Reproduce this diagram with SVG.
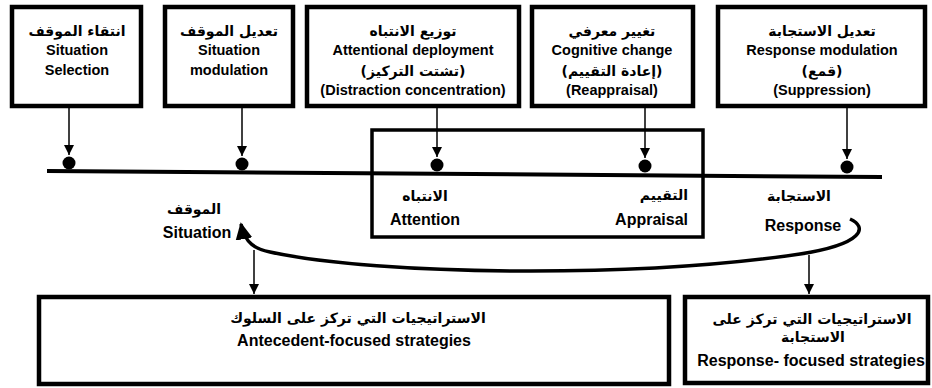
<svg xmlns="http://www.w3.org/2000/svg" width="932" height="388" viewBox="0 0 932 388">
<style>
.box{fill:#fff;stroke:#000;stroke-width:4.5}
.frame{fill:none;stroke:#000;stroke-width:3.5}
.en{font-family:"Liberation Sans",Arial,sans-serif;font-weight:bold;font-size:14.5px;fill:#000}
.lb{font-family:"Liberation Sans",Arial,sans-serif;font-weight:bold;font-size:16px;fill:#000}
.ar{font-family:"DejaVu Sans","Noto Sans",sans-serif;font-weight:bold;font-size:14px;fill:#000}
.thin{stroke:#000;stroke-width:1.5;fill:none}
.dot{fill:#000}
</style>
<defs>
<marker id="ah" markerUnits="userSpaceOnUse" markerWidth="10" markerHeight="10" viewBox="0 0 10 10" refX="10" refY="5" orient="auto">
<path d="M0,0 L10,5 L0,10 z" fill="#000"/>
</marker>
<marker id="big" markerUnits="userSpaceOnUse" markerWidth="17" markerHeight="17" viewBox="0 0 10 10" refX="9" refY="5" orient="auto">
<path d="M0,0 L10,5 L0,10 z" fill="#000"/>
</marker>
</defs>

<g id="box-situation-selection">
<rect class="box" x="12" y="7" width="129" height="99"/>
<text class="ar" x="77" y="36" text-anchor="middle">انتقاء الموقف</text>
<text class="en" x="77" y="55" text-anchor="middle">Situation</text>
<text class="en" x="77" y="75" text-anchor="middle">Selection</text>
</g>
<g id="box-situation-modulation">
<rect class="box" x="165" y="7" width="128" height="99"/>
<text class="ar" x="229" y="36" text-anchor="middle">تعديل الموقف</text>
<text class="en" x="229" y="55" text-anchor="middle">Situation</text>
<text class="en" x="229" y="75" text-anchor="middle">modulation</text>
</g>
<g id="box-attentional-deployment">
<rect class="box" x="307" y="7" width="212" height="99"/>
<text class="ar" x="413" y="36" text-anchor="middle">توزيع الانتباه</text>
<text class="en" x="413" y="55" text-anchor="middle">Attentional deployment</text>
<text class="ar" x="413" y="76" text-anchor="middle">(تشتت التركيز)</text>
<text class="en" x="413" y="95" text-anchor="middle" font-size="14">(Distraction concentration)</text>
</g>
<g id="box-cognitive-change">
<rect class="box" x="532" y="7" width="161" height="99"/>
<text class="ar" x="612" y="36" text-anchor="middle">تغيير معرفي</text>
<text class="en" x="612" y="55" text-anchor="middle">Cognitive change</text>
<text class="ar" x="612" y="76" text-anchor="middle">(إعادة التقييم)</text>
<text class="en" x="612" y="95" text-anchor="middle">(Reappraisal)</text>
</g>
<g id="box-response-modulation">
<rect class="box" x="718" y="7" width="207" height="99"/>
<text class="ar" x="822" y="36" text-anchor="middle">تعديل الاستجابة</text>
<text class="en" x="822" y="55" text-anchor="middle">Response modulation</text>
<text class="ar" x="822" y="76" text-anchor="middle">(قمع)</text>
<text class="en" x="822" y="95" text-anchor="middle">(Suppression)</text>
</g>

<g id="timeline">
<line x1="47" y1="171" x2="882" y2="177" stroke="#000" stroke-width="4"/>
<circle class="dot" cx="69" cy="163" r="6.5"/>
<circle class="dot" cx="242" cy="164" r="6.5"/>
<circle class="dot" cx="437" cy="165" r="6.5"/>
<circle class="dot" cx="645" cy="166" r="6.5"/>
<circle class="dot" cx="847" cy="167" r="6.5"/>
</g>

<g id="box-attention-appraisal">
<rect class="frame" x="372" y="130" width="331" height="107"/>
<text class="ar" x="425" y="201" text-anchor="middle">الانتباه</text>
<text class="lb" x="425" y="225" text-anchor="middle">Attention</text>
<text class="ar" x="688" y="200" text-anchor="end">التقييم</text>
<text class="lb" x="688" y="225" text-anchor="end">Appraisal</text>
</g>

<g id="label-response">
<text class="ar" x="799" y="201" text-anchor="middle">الاستجابة</text>
<text class="lb" x="803" y="231" text-anchor="middle">Response</text>
</g>
<g id="label-situation">
<text class="ar" x="194" y="214" text-anchor="middle">الموقف</text>
<text class="lb" x="197" y="238" text-anchor="middle">Situation</text>
</g>

<g id="box-antecedent">
<rect class="box" x="39" y="297" width="630" height="87"/>
<text class="ar" x="358" y="323" text-anchor="middle">الاستراتيجيات التي تركز على السلوك</text>
<text class="lb" x="354" y="346" text-anchor="middle">Antecedent-focused strategies</text>
</g>
<g id="box-response-focused">
<rect class="box" x="685" y="297" width="243" height="86"/>
<text class="ar" x="812" y="324" text-anchor="middle">الاستراتيجيات التي تركز على</text>
<text class="ar" x="813" y="342" text-anchor="middle">الاستجابة</text>
<text class="lb" x="811" y="366" text-anchor="middle" font-size="13.5">Response- focused strategies</text>
</g>

<g id="connectors">
<line class="thin" x1="69" y1="108" x2="69" y2="155" marker-end="url(#ah)"/>
<line class="thin" x1="242" y1="108" x2="242" y2="156" marker-end="url(#ah)"/>
<line class="thin" x1="437" y1="108" x2="437" y2="157" marker-end="url(#ah)"/>
<line class="thin" x1="645" y1="108" x2="645" y2="158" marker-end="url(#ah)"/>
<line class="thin" x1="847" y1="108" x2="847" y2="159" marker-end="url(#ah)"/>
<path d="M850 219 C868 227 864 244 800 254 C640 278 380 276 270 252 C256 249 245 244 241 224" fill="none" stroke="#000" stroke-width="3.5" marker-end="url(#big)"/>
<line class="thin" x1="254" y1="250" x2="254" y2="294" marker-end="url(#ah)"/>
<line class="thin" x1="809" y1="255" x2="809" y2="294" marker-end="url(#ah)"/>
</g>
</svg>
